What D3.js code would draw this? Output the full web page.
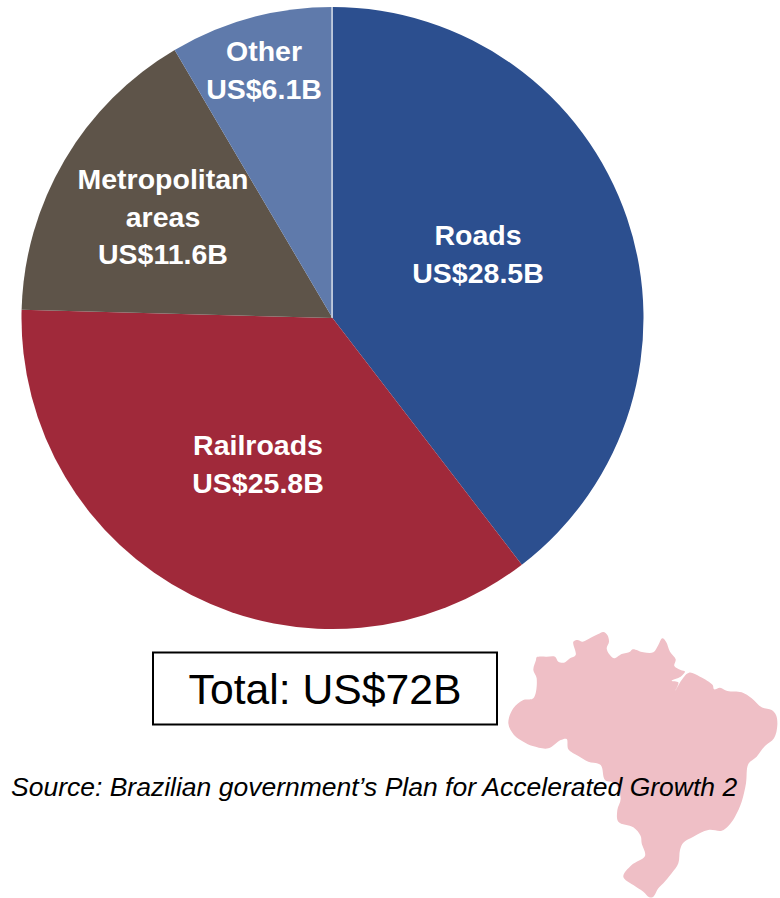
<!DOCTYPE html>
<html><head><meta charset="utf-8">
<script src="https://cdn.jsdelivr.net/npm/d3@7"></script>
<style>html,body{margin:0;padding:0;background:#fff}svg{display:block}text{font-family:"Liberation Sans",Arial,sans-serif}</style>
</head><body><svg id="c" width="780" height="898"></svg>
<script>
const categories=["Roads","Railroads","Metropolitan areas","Other"];
const values=[28.5,25.8,11.6,6.1];
const colors=["#2C4F8F","#A0293A","#5E5449","#5F7AAB"];
const labelLines=[["Roads","US$28.5B"],["Railroads","US$25.8B"],["Metropolitan","areas","US$11.6B"],["Other","US$6.1B"]];
const labelAnchors=[[478,245],[258,455],[163,189],[264,61]];
const totalLabel="Total: US$72B";
const sourceLabel="Source: Brazilian government\u2019s Plan for Accelerated Growth 2";
const brazilOutline=[[140,112],[170,110],[195,110],[205,125],[222,128],[240,115],[257,105],[250,65],[262,60],[278,65],[305,52],[325,42],[340,36],[352,45],[357,65],[350,85],[358,103],[372,115],[395,102],[420,95],[428,88],[460,97],[490,97],[505,75],[517,55],[528,65],[540,95],[557,118],[553,138],[572,150],[585,155],[572,170],[545,182],[565,187],[556,212],[575,180],[597,158],[630,170],[668,195],[672,208],[690,203],[712,213],[755,217],[785,235],[815,262],[845,270],[858,285],[862,315],[852,355],[825,378],[800,410],[775,432],[768,490],[755,545],[735,590],[715,618],[695,632],[655,630],[610,650],[580,668],[570,690],[565,730],[545,760],[520,790],[505,805],[490,830],[478,832],[460,815],[430,795],[400,770],[425,735],[465,708],[455,670],[452,648],[430,622],[385,605],[382,570],[392,535],[375,490],[345,480],[332,435],[295,425],[265,408],[235,388],[230,357],[212,360],[175,385],[128,378],[100,365],[72,345],[55,310],[70,265],[100,240],[130,235],[140,175],[130,150],[138,120]];

const svg=d3.select("#c");
const mx=d3.scaleLinear().domain([0,870]).range([490,780]);
const my=d3.scaleLinear().domain([0,834]).range([620,898]);
svg.append("path")
  .attr("d",d3.line().x(d=>mx(d[0])).y(d=>my(d[1])).curve(d3.curveCatmullRomClosed.alpha(0.5))(brazilOutline))
  .attr("fill","#EFBFC6");

const cx=332.5,cy=318,R=311;
const pie=d3.pie().sort(null)(values);
const arc=d3.arc().innerRadius(0).outerRadius(R);
const g=svg.append("g").attr("transform",`translate(${cx},${cy})`);
g.selectAll("path").data(pie).join("path").attr("d",arc).attr("fill",(d,i)=>colors[i]);
// thin light seam at twelve o'clock, between the last and the first slice
g.append("line").attr("x1",-0.5).attr("x2",-0.5).attr("y1",0).attr("y2",-R)
  .attr("stroke","#fff").attr("stroke-opacity",.85).attr("stroke-width",1.2);

labelLines.forEach((lines,i)=>{
  const t=svg.append("text").attr("text-anchor","middle").attr("fill","#fff")
    .attr("font-weight","bold").attr("font-size",28.5);
  lines.forEach((s,j)=>t.append("tspan").attr("x",labelAnchors[i][0]).attr("y",labelAnchors[i][1]+j*37.5).text(s));
});

svg.append("rect").attr("x",153).attr("y",652.5).attr("width",344).attr("height",72)
  .attr("fill","#fff").attr("stroke","#000").attr("stroke-width",2);
svg.append("text").attr("x",325).attr("y",704).attr("text-anchor","middle").attr("font-size",42.7).attr("fill","#000").text(totalLabel);
svg.append("text").attr("x",11).attr("y",796).attr("font-size",26.5).attr("font-style","italic").attr("fill","#000").text(sourceLabel);
</script></body></html>
